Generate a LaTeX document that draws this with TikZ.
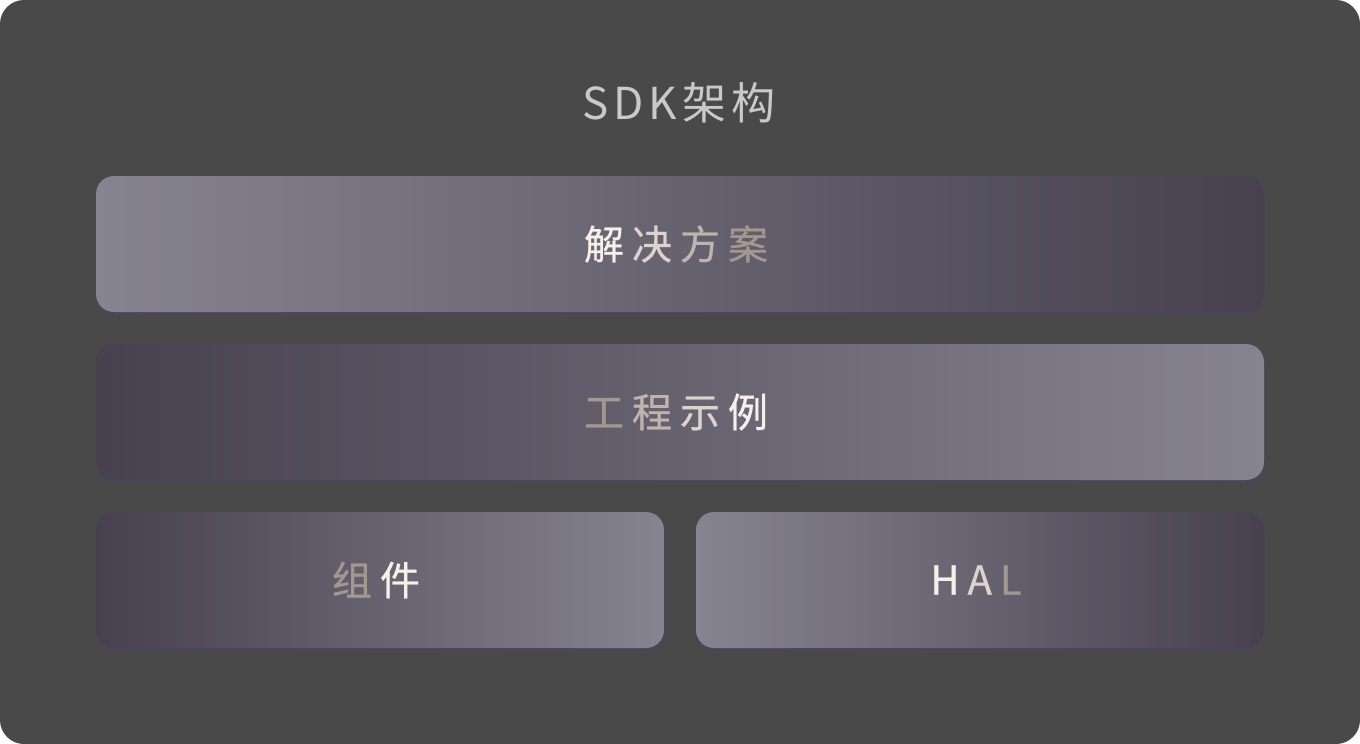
\documentclass[tikz,border=0pt]{standalone}
\usepackage{fontspec}
\newfontfamily\cjk{Noto Sans CJK SC}
\newfontfamily\cjkm[FakeBold=0.6]{Noto Sans CJK SC}
\definecolor{bgc}{HTML}{494949}
\definecolor{lightc}{HTML}{878491}
\definecolor{darkc}{HTML}{46404F}
\definecolor{shadowc}{HTML}{4A4557}
\definecolor{titlec}{HTML}{C9C9C9}
\definecolor{tw}{HTML}{F6F0EA}
\definecolor{tt}{HTML}{A3988F}
\colorlet{t1}{tw}
\colorlet{t2}{tw!67!tt}
\colorlet{t3}{tw!33!tt}
\colorlet{t4}{tt}
\newcommand\lsp{\kern8pt}
\tikzset{
  box/.style={rounded corners=18pt, inner sep=0pt, font=\cjkm\fontsize{40}{48}\selectfont},
  title/.style={font=\cjk\fontsize{44}{52}\selectfont, text=titlec, inner sep=0pt}
}
\begin{document}
\begin{tikzpicture}[x=1pt,y=-1pt]
\useasboundingbox (0,0) rectangle (1360,744);
\fill[white] (0,0) rectangle (1360,744);
\fill[bgc, rounded corners=24pt] (0,0) rectangle (1360,744);
% title
\node[title] (title) at (679,103) {S\kern5pt D\kern5pt K\kern6pt 架\kern5pt 构};
% shadows
\fill[shadowc, rounded corners=19pt] (95,177) rectangle (1266,315);
\fill[shadowc, rounded corners=19pt] (95,345) rectangle (1266,483);
\fill[shadowc, rounded corners=19pt] (95,513) rectangle (666,651);
\fill[shadowc, rounded corners=19pt] (695,513) rectangle (1266,651);
% boxes
\node[box, left color=lightc, right color=darkc, minimum width=1168pt, minimum height=136pt] (sol) at (680,244)
  {\textcolor{t1}{解}\lsp\textcolor{t2}{决}\lsp\textcolor{t3}{方}\lsp\textcolor{t4}{案}\lsp\null};
\node[box, left color=darkc, right color=lightc, minimum width=1168pt, minimum height=136pt] (proj) at (680,412)
  {\textcolor{t4}{工}\lsp\textcolor{t3}{程}\lsp\textcolor{t2}{示}\lsp\textcolor{t1}{例}\lsp\null};
\node[box, left color=darkc, right color=lightc, minimum width=568pt, minimum height=136pt] (comp) at (380,580)
  {\textcolor{t4}{组}\lsp\textcolor{t1}{件}\lsp\null};
\node[box, left color=lightc, right color=darkc, minimum width=568pt, minimum height=136pt] (hal) at (980,580)
  {\textcolor{t1}{H}\lsp\textcolor{t2}{A}\lsp\textcolor{t4}{L}\lsp\null};
\end{tikzpicture}
\end{document}
